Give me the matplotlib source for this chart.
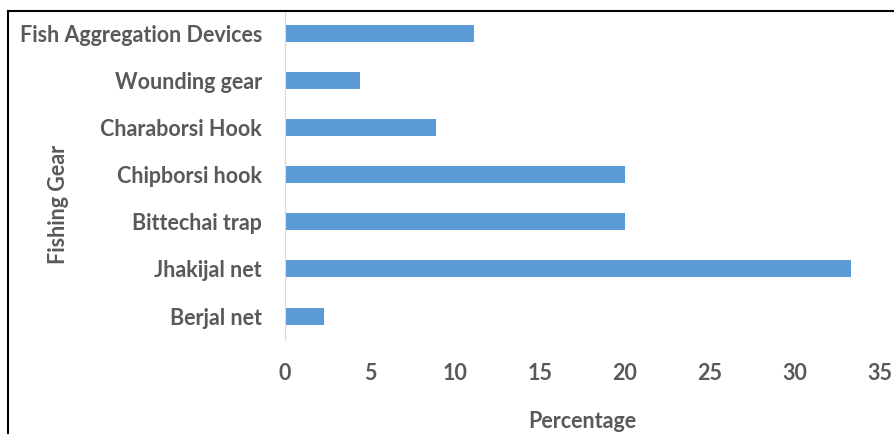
import matplotlib.pyplot as plt
from matplotlib.lines import Line2D

gear = ["Berjal net", "Jhakijal net", "Bittechai trap", "Chipborsi hook",
        "Charaborsi Hook", "Wounding gear", "Fish Aggregation Devices"]
percent = [2.3, 33.3, 20.0, 20.0, 8.9, 4.4, 11.1]

plt.rcParams['font.family'] = ['Lato', 'DejaVu Sans']
grey = '#595959'

fig = plt.figure(figsize=(8.95, 4.34), dpi=100)
ax = fig.add_axes([0.3184, 0.2175, 0.6648, 0.7605])
ax.barh(gear, percent, height=0.36, color='#5B9BD5')

ax.set_xlim(0, 35)
ax.set_ylim(-0.5, len(gear) - 0.5)
ax.set_xticks(range(0, 36, 5))
for s in ['top', 'right', 'bottom']:
    ax.spines[s].set_visible(False)
ax.spines['left'].set_color('#D9D9D9')
ax.tick_params(axis='both', length=0, colors=grey)
ax.tick_params(axis='y', labelsize=15.5, pad=16.5)
ax.tick_params(axis='x', labelsize=15.5, pad=16.5)
for lb in ax.get_yticklabels() + ax.get_xticklabels():
    lb.set_fontweight('bold')

ax.set_xlabel('Percentage', fontsize=15.5, fontweight='bold', color=grey, labelpad=20)
fig.text(0.065, 0.528, 'Fishing Gear', rotation=90, fontsize=15.5, fontweight='bold',
         color=grey, ha='center', va='center')

# outer frame (left and top edges)
fig.add_artist(Line2D([0.0084, 0.0084], [0, 0.975], color='black', lw=1.5))
fig.add_artist(Line2D([0.0084, 1], [0.975, 0.975], color='black', lw=1.5))

fig.savefig('out.png', dpi=100)
